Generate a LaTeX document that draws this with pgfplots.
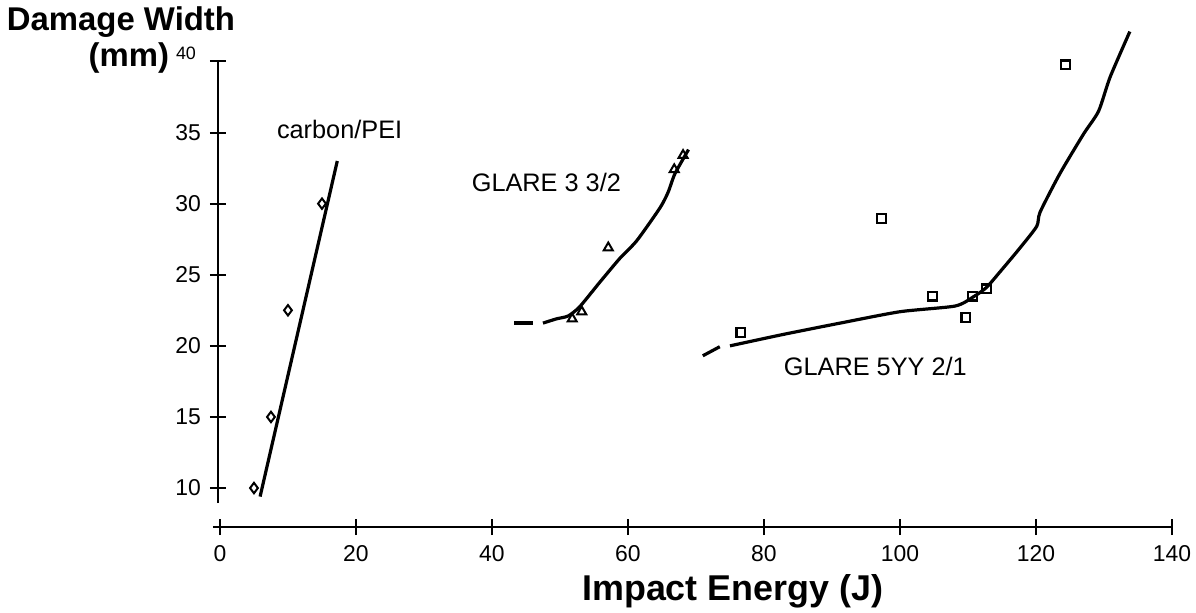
\documentclass[border=0pt]{standalone}
\usepackage{pgfplots}
\pgfplotsset{compat=1.18}
\usepackage{fontspec}
\setmainfont{Liberation Sans}
\begin{document}
\begin{tikzpicture}
\begin{axis}[
  x=3.4bp, y=7.11bp,
  xmin=-0.3, xmax=140, ymin=7.26, ymax=40,
  clip=false,
  axis x line*=bottom, axis y line*=left,
  x axis line style={line width=1.3bp, shorten <=-2.5bp},
  y axis line style={line width=1.3bp, shorten <=12bp},
  xtick={0,20,...,140}, ytick={10,15,...,40},
  yticklabels={10,15,20,25,30,35,{}},
  tick align=center, major tick length=8bp,
  tick style={line width=1bp, black},
  tick label style={font=\fontsize{11.5}{13}\selectfont},
  /pgf/number format/assume math mode=true,
  xticklabel style={yshift=-1.5bp},
  yticklabel style={xshift=-1bp},
]
% carbon/PEI
\addplot[line width=1.6bp] coordinates {(5.9,9.4)(17.25,33.0)};
\addplot[only marks, mark=diamond, mark size=2.6bp, mark options={line width=1bp}]
  coordinates {(5,10)(7.5,15)(10,22.5)(15,30)};
% GLARE 3 3/2
\addplot[line width=1.6bp] coordinates {(43.3,21.6)(46.1,21.6)};
\addplot[line width=1.6bp, smooth, tension=0.4] coordinates {(47.5,21.6)(49.5,21.9)(51.2,22.1)(52.9,22.75)(55.9,24.5)(58.8,26.15)(61.3,27.4)(64.7,29.7)(65.9,30.8)(66.9,32.1)(68.9,33.8)};
\addplot[only marks, mark=triangle, mark size=2.6bp, mark options={line width=1bp}]
  coordinates {(51.8,21.9)(53.2,22.4)(57.1,26.9)(66.8,32.4)(68.1,33.4)};
% GLARE 5YY 2/1
\addplot[line width=1.6bp] coordinates {(71.0,19.3)(73.5,19.94)};
\addplot[line width=1.6bp, smooth, tension=0.4] coordinates {(75.0,20.0)(82.8,20.8)(91.2,21.6)(100.0,22.4)(108.1,22.8)(110.8,23.45)(112.7,24.1)(114.7,25.2)(117.5,26.8)(120.1,28.4)(120.6,29.4)(123.5,32.1)(127.0,34.9)(129.2,36.5)(130.9,38.9)(133.8,42.1)};
\addplot[only marks, mark=square, mark size=2.2bp, mark options={line width=1.1bp}]
  coordinates {(76.6,20.95)(97.3,28.97)(104.8,23.5)(109.7,22.0)(110.7,23.5)(112.7,24.0)(124.3,39.75)};
% labels
\node[anchor=west, font=\fontsize{12.7}{15}\selectfont] at (axis cs:7.35,35.25) {carbon/PEI};
\node[anchor=west, font=\fontsize{12.7}{15}\selectfont] at (axis cs:36.0,31.5) {GLARE 3 3/2};
\node[anchor=west, font=\fontsize{12.7}{15}\selectfont] at (axis cs:81.9,18.53) {GLARE 5YY 2/1};
\node[font=\bfseries\fontsize{18}{20}\selectfont] at (axis cs:75.4,2.75) {Impact Energy (J)};
\node[font=\bfseries\fontsize{16.5}{18}\selectfont] at (axis cs:-14.56,42.77) {Damage Width};
\node[font=\bfseries\fontsize{16.5}{18}\selectfont] at (axis cs:-13.4,40.24) {(mm)};
\node[font=\fontsize{9}{10}\selectfont, inner sep=0pt] at (axis cs:-5.0,40.6) {40};
\coordinate (bl) at (axis cs:-32.35,1.28);
\coordinate (tr) at (axis cs:143.53,44.32);
\end{axis}
\pgfresetboundingbox
\path[use as bounding box] (bl) rectangle (tr);
\end{tikzpicture}
\end{document}
